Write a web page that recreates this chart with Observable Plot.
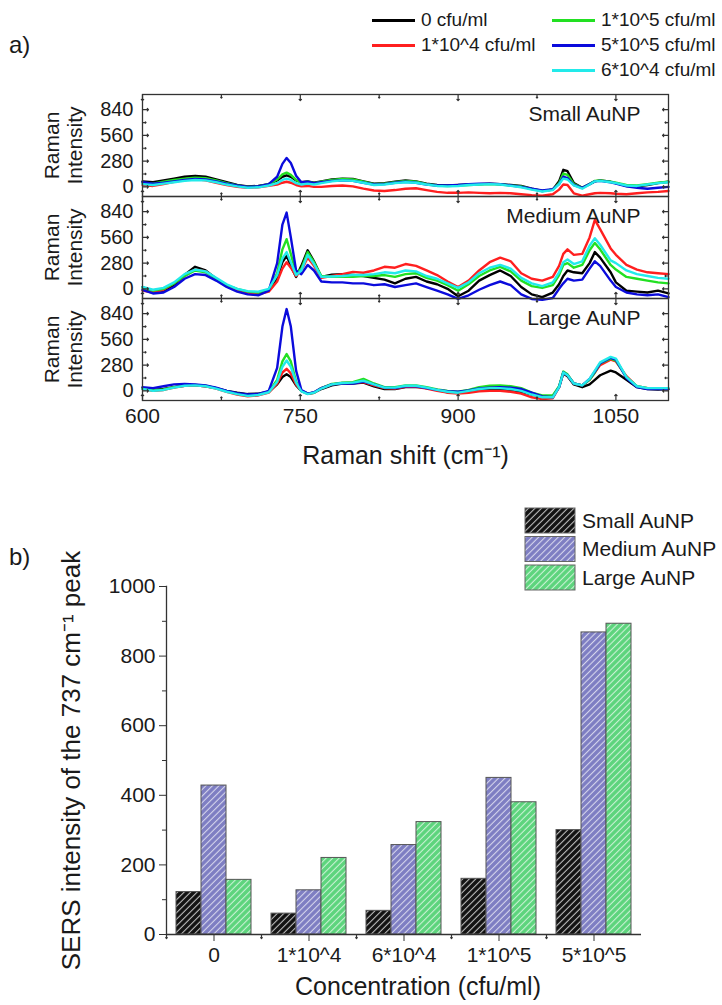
<!DOCTYPE html>
<html><head><meta charset="utf-8">
<script src="https://cdn.jsdelivr.net/npm/d3@7"></script>
<script src="https://cdn.jsdelivr.net/npm/@observablehq/plot@0.6"></script>
<style>
body{margin:0;background:#fff;}
#wrap{position:relative;width:722px;height:1005px;font-family:"Liberation Sans",Arial,sans-serif;color:#1a1a1a;overflow:hidden}
.abs{position:absolute;white-space:nowrap}
</style></head><body><div id="wrap"></div>
<script>
// ---------- Panel a data ----------
const shifts = [600,610,620,630,640,650,660,670,680,690,700,710,720,728,733,737,741,746,751,757,763,770,780,790,800,810,820,830,840,850,860,870,880,890,900,910,920,930,940,950,960,970,980,990,996,1000,1004,1010,1018,1025,1030,1035,1045,1050,1060,1070,1080,1090,1100];
const panels = ["Small","Medium","Large"];
const seriesNames = ["0 cfu/ml","1*10^4 cfu/ml","1*10^5 cfu/ml","5*10^5 cfu/ml","6*10^4 cfu/ml"];
const seriesColors = ["#000000","#ff1f1f","#22e022","#0b0bdc","#22eaea"];

const small_0   = [60,50,70,90,110,120,110,80,50,20,5,10,30,70,110,125,110,70,50,60,45,60,80,90,85,60,35,40,55,70,60,35,20,15,20,25,30,35,30,20,10,-20,-45,-30,60,185,170,40,-10,30,60,70,55,40,10,5,20,40,55];
const small_1e4 = [20,10,30,55,75,85,70,45,20,0,-10,-5,10,25,45,55,45,20,5,10,0,0,10,15,5,-20,-40,-45,-35,-20,-15,-35,-55,-65,-65,-60,-65,-70,-65,-70,-80,-90,-95,-80,-30,25,20,-70,-95,-80,-70,-65,-70,-75,-80,-70,-60,-55,-45];
const small_1e5 = [40,35,55,75,90,100,95,70,40,15,0,5,30,80,135,155,130,75,45,55,40,55,75,85,80,55,30,35,50,65,55,30,15,10,15,20,25,30,25,15,5,-25,-45,-30,40,145,130,30,-10,30,65,70,55,45,20,15,30,45,55];
const small_5e5 = [50,35,45,60,75,85,80,60,35,15,0,5,30,110,250,315,260,120,50,55,40,50,65,70,65,45,25,30,45,55,45,25,15,15,20,30,35,35,30,15,0,-20,-40,-25,30,110,95,20,-10,30,60,65,50,35,5,-10,-20,-10,0];
const small_6e4 = [30,20,35,50,65,75,70,50,25,5,-10,-5,15,40,75,90,75,40,25,35,25,40,60,70,65,45,20,25,40,50,45,25,10,5,10,20,25,30,25,10,-5,-30,-50,-35,30,90,80,15,-20,25,60,65,50,40,15,10,25,40,50];

const medium_0   = [20,-30,-20,40,150,240,200,110,30,-20,-45,-50,-20,120,290,360,250,130,250,420,300,130,155,160,150,140,120,100,60,110,130,80,50,0,-80,-20,90,150,200,140,20,-60,-90,-40,50,140,200,180,170,280,400,340,180,70,-20,-30,-40,-20,-50];
const medium_1e4 = [-20,-40,-10,60,140,210,190,110,30,-20,-50,-60,-30,80,220,290,230,140,200,340,250,120,140,160,185,175,200,240,230,270,250,200,150,80,20,90,200,290,340,300,170,110,90,130,250,380,430,370,380,560,750,650,440,370,260,210,180,170,160];
const medium_1e5 = [10,-20,0,60,140,200,180,110,40,0,-30,-40,-10,170,430,540,380,170,220,400,290,140,130,130,130,140,140,150,130,160,170,120,90,40,-20,50,140,200,240,190,90,30,10,40,150,260,280,230,260,420,500,430,260,210,130,110,90,70,60];
const medium_5e5 = [-10,-50,-40,20,110,160,150,90,20,-30,-60,-70,-20,280,700,830,560,200,160,260,200,80,70,70,60,60,40,50,20,40,60,20,-20,-60,-110,-70,-10,40,80,40,-60,-110,-120,-100,0,60,110,90,100,220,300,250,90,20,-40,-60,-70,-60,-90];
const medium_6e4 = [20,-10,10,70,160,210,190,120,50,0,-25,-30,0,150,330,400,290,150,200,370,270,130,135,140,150,150,160,180,170,200,190,140,110,60,10,70,170,230,260,220,120,60,30,70,180,290,320,270,300,470,550,480,310,280,200,160,140,120,110];

const large_0   = [30,10,20,40,55,60,50,30,0,-20,-35,-30,-10,70,150,180,150,60,0,-30,-20,20,60,80,80,90,50,20,20,40,45,30,10,-15,-20,-5,10,20,20,10,-10,-40,-60,-60,40,190,160,70,40,70,120,170,220,200,120,40,20,15,20];
const large_1e4 = [20,0,10,35,55,60,50,25,-10,-40,-60,-50,-20,80,200,240,190,70,0,-30,-20,30,70,85,85,95,60,30,25,45,45,25,0,-20,-30,-20,-5,0,0,-10,-30,-70,-90,-80,40,200,170,80,60,120,200,280,340,320,160,50,30,25,20];
const large_1e5 = [25,5,15,40,60,65,55,30,-5,-30,-50,-40,-10,120,320,400,320,100,0,-30,-20,30,75,90,95,130,80,40,40,60,60,40,15,0,-10,10,40,55,60,50,30,-20,-50,-50,50,210,180,80,60,120,200,300,350,330,150,50,30,25,25];
const large_5e5 = [40,30,50,70,75,70,60,35,0,-25,-40,-35,0,250,700,890,700,220,10,-30,-15,30,70,80,80,100,70,35,30,50,50,30,10,-5,-10,5,25,35,40,35,20,-20,-60,-70,40,200,170,80,60,130,210,300,360,340,140,40,20,20,20];
const large_6e4 = [20,0,10,35,55,60,50,25,-10,-35,-55,-45,-15,100,260,330,260,90,-5,-35,-20,25,70,85,90,110,70,35,35,55,55,35,10,-10,-20,0,20,30,30,20,0,-40,-70,-70,40,200,170,80,60,130,220,310,370,350,150,50,30,30,30];

const spectra = {
  Small:  [small_0, small_1e4, small_1e5, small_5e5, small_6e4],
  Medium: [medium_0, medium_1e4, medium_1e5, medium_5e5, medium_6e4],
  Large:  [large_0, large_1e4, large_1e5, large_5e5, large_6e4]
};
const xMajor = [600,750,900,1050];
const xMinor = [675,825,975];
const yMajor = [0,280,560,840];
const yMinor = [140,420,700];

// ---------- Panel b data ----------
const concentrations = ["0","1*10^4","6*10^4","1*10^5","5*10^5"];
const sizes = ["Small","Medium","Large"];
const sizeLabels = ["Small AuNP","Medium AuNP","Large AuNP"];
const peakSmall  = [122,60,68,160,300];
const peakMedium = [428,127,257,450,868];
const peakLarge  = [157,220,323,380,893];
const barColors = ["#111111","#7d7dc2","#5cd47c"];
const yTicksB = [0,200,400,600,800,1000];
const yMinorB = [100,300,500,700,900];

const FONT = '"Liberation Sans", Arial, sans-serif';
const wrap = document.getElementById("wrap");
const plain = d => String(d);

// ---------- build rows ----------
const rows = [];
panels.forEach(p => spectra[p].forEach((arr, si) => arr.forEach((v, i) =>
  rows.push({panel: p, series: seriesNames[si], shift: shifts[i], intensity: v}))));

const barRows = [];
[peakSmall, peakMedium, peakLarge].forEach((arr, si) => arr.forEach((v, ci) =>
  barRows.push({conc: concentrations[ci], size: sizes[si], value: v})));

// ---------- labels a) b) ----------
function addText(txt, left, top, size, extra) {
  const d = document.createElement("div");
  d.className = "abs"; d.textContent = txt;
  d.style.left = left + "px"; d.style.top = top + "px"; d.style.fontSize = size + "px";
  d.style.lineHeight = "1";
  if (extra) Object.assign(d.style, extra);
  wrap.appendChild(d);
  return d;
}
addText("a)", 9, 33, 24);
addText("b)", 9, 545, 24);

// ---------- Plot a ----------
const tickStyle = {stroke: "#333", strokeWidth: 1.2, anchor: "start"};
const plotA = Plot.plot({
  width: 722, height: 475,
  marginLeft: 142, marginRight: 54, marginTop: 93, marginBottom: 74,
  style: {fontFamily: FONT, fontSize: "20px", color: "#1a1a1a", background: "transparent", overflow: "visible"},
  x: {domain: [600, 1100], label: null},
  y: {domain: [-105, 1005], label: null},
  fy: {domain: panels, padding: 0, axis: null, label: null},
  color: {domain: seriesNames, range: seriesColors},
  marks: [
    Plot.line(rows, {x: "shift", y: "intensity", fy: "panel", z: "series", stroke: "series", strokeWidth: 2.4}),
    Plot.frame({stroke: "#333", strokeWidth: 1.3}),
    Plot.vector(xMajor, {x: d => d, frameAnchor: "bottom", length: 6, rotate: 0, ...tickStyle}),
    Plot.vector(xMinor, {x: d => d, frameAnchor: "bottom", length: 3.5, rotate: 0, ...tickStyle}),
    Plot.vector(xMajor, {x: d => d, frameAnchor: "top", length: 6, rotate: 180, ...tickStyle}),
    Plot.vector(xMinor, {x: d => d, frameAnchor: "top", length: 3.5, rotate: 180, ...tickStyle}),
    Plot.vector(yMajor, {y: d => d, frameAnchor: "left", length: 6, rotate: 90, ...tickStyle}),
    Plot.vector(yMinor, {y: d => d, frameAnchor: "left", length: 3.5, rotate: 90, ...tickStyle}),
    Plot.vector(yMajor, {y: d => d, frameAnchor: "right", length: 6, rotate: 270, ...tickStyle}),
    Plot.vector(yMinor, {y: d => d, frameAnchor: "right", length: 3.5, rotate: 270, ...tickStyle}),
    Plot.axisX({ticks: xMajor, tickFormat: plain, tickSize: 0, tickPadding: 8, fontSize: 21, label: null}),
    Plot.axisY({ticks: yMajor, tickFormat: plain, tickSize: 0, tickPadding: 9, fontSize: 20, label: null}),
    Plot.text(panels, {fy: d => d, text: d => d + " AuNP", frameAnchor: "top-right", dx: -28, dy: 20, textAnchor: "end", lineAnchor: "middle", fontSize: 21}),
    Plot.text(["Raman\nIntensity"], {text: d => d, frameAnchor: "left", dx: -79, rotate: -90, textAnchor: "middle", lineAnchor: "middle", fontSize: 21, lineHeight: 1.1}),
    Plot.text(["Raman shift (cm⁻¹)"], {text: d => d, fy: () => "Large", frameAnchor: "bottom", textAnchor: "middle", lineAnchor: "middle", dy: 55, fontSize: 25})
  ]
});
plotA.style.position = "absolute"; plotA.style.left = "0px"; plotA.style.top = "0px";
wrap.appendChild(plotA);

// ---------- legend a ----------
const legendPos = [[0, 0], [0, 1], [1, 0], [1, 1], [1, 2]];
const colX = [372, 552];
const rowY = [20, 45, 70];
seriesNames.forEach((s, i) => {
  const [c, r] = legendPos[i];
  const ln = document.createElement("div");
  ln.className = "abs";
  Object.assign(ln.style, {left: colX[c] + "px", top: (rowY[r] - 1.5) + "px", width: "43px", height: "3px", background: seriesColors[i]});
  wrap.appendChild(ln);
  addText(s, colX[c] + 49, rowY[r] - 10, 19);
});

// ---------- patterns ----------
function addPatterns(svg, prefix) {
  const defs = d3.select(svg).insert("defs", ":first-child");
  sizes.forEach((s, i) => {
    const p = defs.append("pattern").attr("id", prefix + s)
      .attr("patternUnits", "userSpaceOnUse").attr("width", 4.6).attr("height", 4.6)
      .attr("patternTransform", "rotate(45)");
    p.append("rect").attr("width", 4.6).attr("height", 4.6).attr("fill", barColors[i]);
    p.append("line").attr("x1", 2.3).attr("x2", 2.3).attr("y1", -1).attr("y2", 6)
      .attr("stroke", "#fff").attr("stroke-width", 1.1).attr("stroke-opacity", i === 0 ? 0.75 : 0.7);
  });
}

// ---------- Plot b ----------
const plotB = Plot.plot({
  width: 722, height: 525,
  marginLeft: 165, marginRight: 80, marginTop: 106, marginBottom: 71,
  style: {fontFamily: FONT, fontSize: "21px", color: "#1a1a1a", background: "transparent", overflow: "visible"},
  fx: {domain: concentrations, padding: 0, label: null},
  x: {domain: sizes, paddingInner: 0, paddingOuter: 0.375, axis: null},
  y: {domain: [0, 1000], label: null},
  marks: [
    ...sizes.map(s => Plot.barY(barRows.filter(d => d.size === s), {fx: "conc", x: "size", y: "value", fill: `url(#hb-${s})`, stroke: "#555", strokeWidth: 1})),
    Plot.ruleY([0], {stroke: "#333", strokeWidth: 1.3}),
    Plot.frame({anchor: "left", facetAnchor: "left", stroke: "#333", strokeWidth: 1.3}),
    Plot.axisY({ticks: yTicksB, tickFormat: plain, tickSize: 7, tickPadding: 4, fontSize: 21, label: null, stroke: "#333"}),
    Plot.axisY({ticks: yMinorB, tickSize: 4, text: null, label: null, stroke: "#333"}),
    Plot.axisFx({anchor: "bottom", tickSize: 7, tickPadding: 6, fontSize: 21, label: null, stroke: "#333"}),
    Plot.vector([0], {frameAnchor: "bottom-left", length: 4, rotate: 180, anchor: "start", stroke: "#333", strokeWidth: 1.2}),
    Plot.text(["SERS intensity of the 737 cm⁻¹ peak"], {text: d => d, frameAnchor: "left", facetAnchor: "left", dx: -95, rotate: -90, textAnchor: "middle", lineAnchor: "middle", fontSize: 26}),
    Plot.text(["Concentration (cfu/ml)"], {text: d => d, fx: () => "6*10^4", frameAnchor: "bottom", textAnchor: "middle", lineAnchor: "middle", dy: 52, dx: 14, fontSize: 25})
  ]
});
addPatterns(plotB, "hb-");
plotB.style.position = "absolute"; plotB.style.left = "0px"; plotB.style.top = "480px";
wrap.appendChild(plotB);

// ---------- legend b ----------
const leg = d3.create("svg").attr("width", 200).attr("height", 95)
  .style("position", "absolute").style("left", "522px").style("top", "505px")
  .style("font-family", FONT);
addPatterns(leg.node(), "hl-");
sizes.forEach((s, i) => {
  leg.append("rect").attr("x", 3).attr("y", 3 + i * 28.5).attr("width", 50).attr("height", 25)
    .attr("fill", `url(#hl-${s})`).attr("stroke", "#666").attr("stroke-width", 1);
  leg.append("text").attr("x", 60).attr("y", 3 + i * 28.5 + 12.5).attr("dy", "0.35em")
    .attr("font-size", 21).attr("fill", "#1a1a1a").text(sizeLabels[i]);
});
wrap.appendChild(leg.node());
</script></body></html>
